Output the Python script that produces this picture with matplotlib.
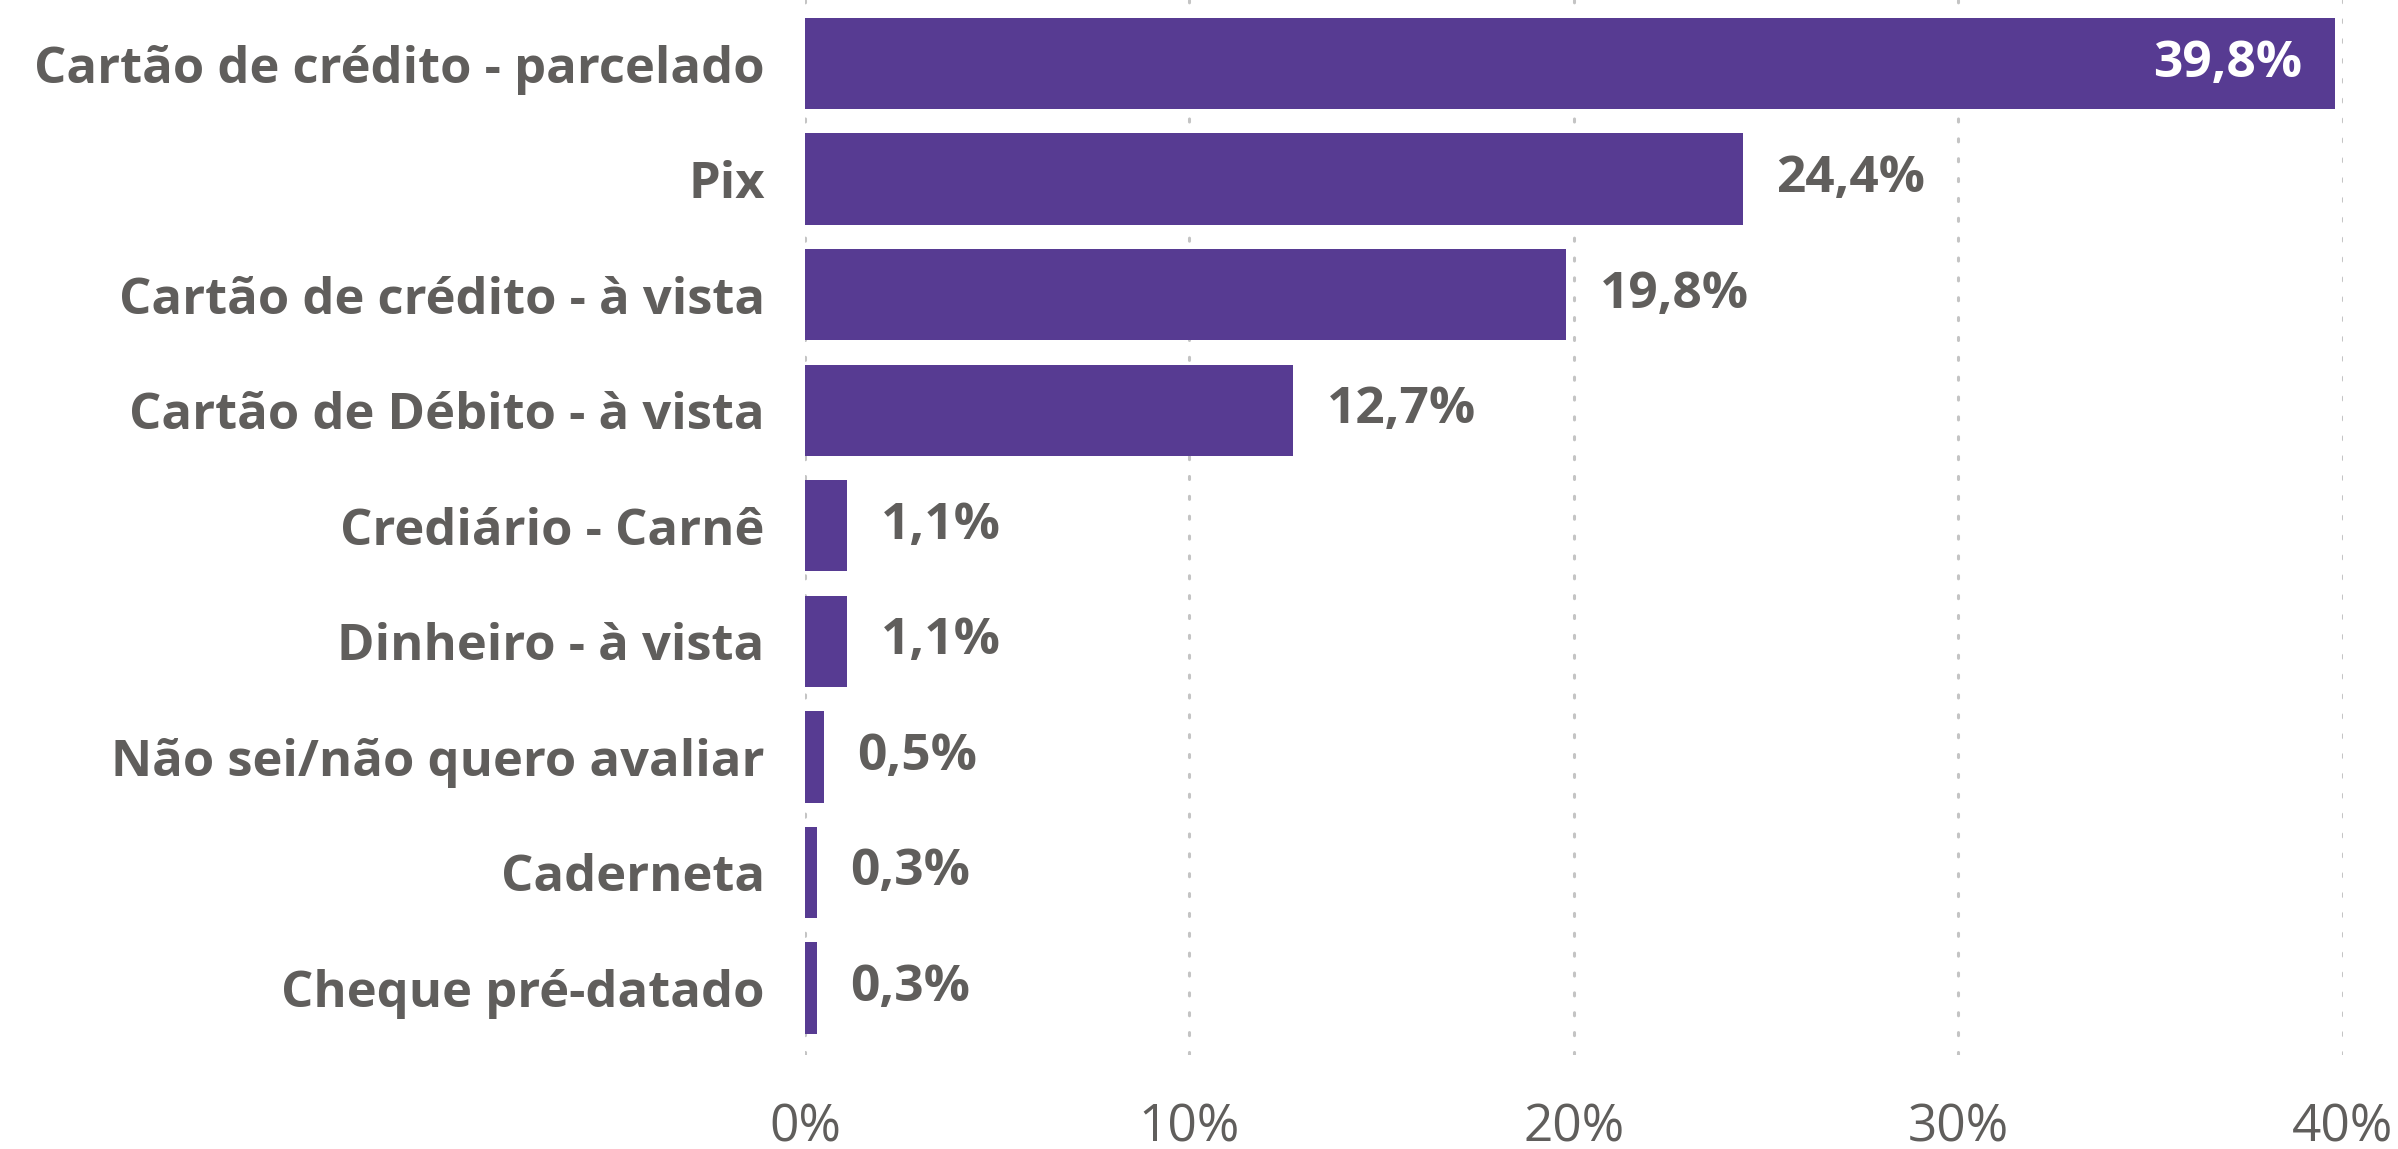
import matplotlib
matplotlib.use("Agg")
import matplotlib.pyplot as plt
from matplotlib.ticker import FixedLocator, FuncFormatter

categorias = [
    "Cartão de crédito - parcelado",
    "Pix",
    "Cartão de crédito - à vista",
    "Cartão de Débito - à vista",
    "Crediário - Carnê",
    "Dinheiro - à vista",
    "Não sei/não quero avaliar",
    "Caderneta",
    "Cheque pré-datado",
]
valores = [39.8, 24.4, 19.8, 12.7, 1.1, 1.1, 0.5, 0.3, 0.3]
ticks_x = [0, 10, 20, 30, 40]

roxo = "#573B92"
cinza = "#605E5C"
fonte = "Open Sans"

fig = plt.figure(figsize=(23.98, 11.49), dpi=100)
ax = fig.add_axes([0.3357, 0.0818, 0.6413, 0.9182])

pos = list(range(len(categorias)))
bars = ax.barh(pos, valores, height=0.79, color=roxo, zorder=3)

ax.set_xlim(0, 40)
ax.set_ylim(8.58, -0.55)

# grade pontilhada
ax.xaxis.set_major_locator(FixedLocator(ticks_x))
ax.xaxis.set_major_formatter(FuncFormatter(lambda v, p: f"{v:.0f}%"))
ax.grid(axis="x", color="#C4C4C4", linewidth=2.2, linestyle=(0, (1, 5.5)),
        dash_capstyle="round", zorder=0)
ax.set_axisbelow(True)

for s in ax.spines.values():
    s.set_visible(False)

ax.set_yticks(pos)
ax.set_yticklabels(categorias, fontfamily=fonte, fontweight="bold",
                   fontsize=36.5, color=cinza)
ax.tick_params(axis="y", length=0, pad=29)
ax.tick_params(axis="x", length=0, pad=34, labelsize=37, labelcolor=cinza)
for t in ax.get_xticklabels():
    t.set_fontfamily(fonte)

for i, (b, v) in enumerate(zip(bars, valores)):
    txt = f"{v:.1f}%".replace(".", ",")
    y = b.get_y() + b.get_height() / 2
    if v > 35:
        ax.annotate(txt, (v, y), xytext=(-24, 0), textcoords="offset points",
                    ha="right", va="center", color="white", fontsize=37,
                    fontweight="bold", fontfamily=fonte)
    else:
        ax.annotate(txt, (v, y), xytext=(24, 0), textcoords="offset points",
                    ha="left", va="center", color=cinza, fontsize=37,
                    fontweight="bold", fontfamily=fonte)

fig.savefig("out.png", dpi=100)
